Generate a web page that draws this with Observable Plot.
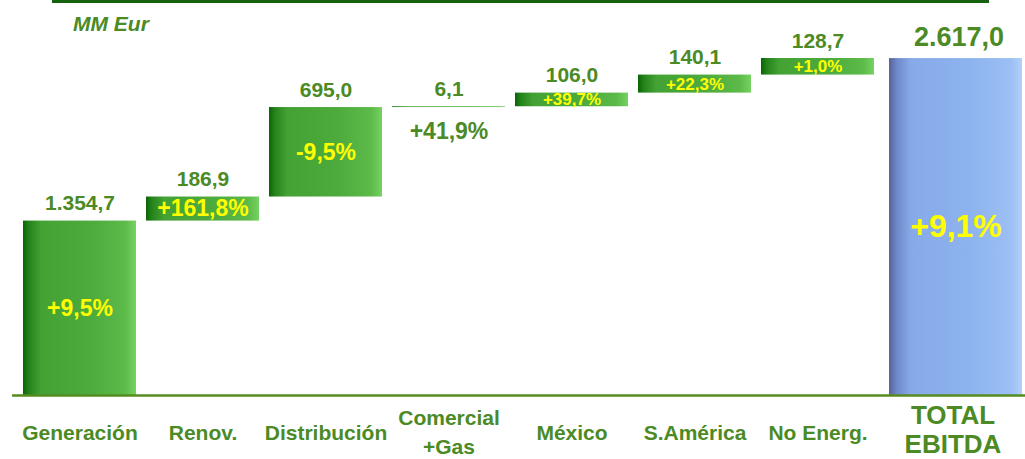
<!DOCTYPE html>
<html>
<head>
<meta charset="utf-8">
<script src="https://cdn.jsdelivr.net/npm/d3@7"></script>
<script src="https://cdn.jsdelivr.net/npm/@observablehq/plot@0.6"></script>
<style>
  html, body { margin: 0; padding: 0; background: #ffffff; }
  #chart { width: 1025px; height: 459px; }
</style>
</head>
<body>
<div id="chart"></div>
<script>
// ---- Data ----
const categories = ["Generación", "Renov.", "Distribución", "Comercial\n+Gas", "México", "S.América", "No Energ.", "TOTAL\nEBITDA"];
const values = [1354.7, 186.9, 695.0, 6.1, 106.0, 140.1, 128.7, 2617.0];   // MM Eur
const changes = [9.5, 161.8, -9.5, 41.9, 39.7, 22.3, 1.0, 9.1];          // % change
const isTotal = [false, false, false, false, false, false, false, true];
const unitLabel = "MM Eur";

// ---- Build waterfall table ----
const esLocale = d3.formatLocale({decimal: ",", thousands: ".", grouping: [3], currency: ["", " €"]});
const fmtValue = esLocale.format(",.1f");
const fmtChange = v => (v > 0 ? "+" : v < 0 ? "-" : "") + esLocale.format(",.1f")(Math.abs(v)) + "%";

let run = 0;
const rows = categories.map((c, i) => {
  let start, end;
  if (isTotal[i]) { start = 0; end = values[i]; }
  else { start = run; end = run + values[i]; run = end; }
  return {category: c, value: values[i], change: changes[i], start, end, mid: (start + end) / 2, total: isTotal[i]};
});
const steps = rows.filter(d => !d.total);
const totals = rows.filter(d => d.total);
const yMax = d3.max(rows, d => d.end);

const GREEN_TEXT = "#4b8a24";
const FONT = "'Liberation Sans', Arial, Helvetica, sans-serif";

// decorations: gradients, top rule, unit label
const deco = (index, scales, values, dims) => {
  const g = d3.create("svg:g");
  const defs = g.append("defs");
  const gg = defs.append("linearGradient").attr("id", "gGreen").attr("x1", 0).attr("x2", 1).attr("y1", 0).attr("y2", 0);
  [[0, "#0c6306"], [0.05, "#23831a"], [0.16, "#44a134"], [0.6, "#4dab3d"], [0.9, "#5cba49"], [1, "#76d262"]]
    .forEach(([o, c]) => gg.append("stop").attr("offset", o).attr("stop-color", c));
  const gb = defs.append("linearGradient").attr("id", "gBlue").attr("x1", 0).attr("x2", 1).attr("y1", 0).attr("y2", 0);
  [[0, "#56629a"], [0.06, "#6f88c8"], [0.16, "#87a9e8"], [0.6, "#8db3ee"], [0.92, "#9cc0f4"], [1, "#b2d0fa"]]
    .forEach(([o, c]) => gb.append("stop").attr("offset", o).attr("stop-color", c));
  g.append("rect").attr("x", 52).attr("y", 0).attr("width", dims.width - 52 - 36).attr("height", 3).attr("fill", "#17620e");
  g.append("text").attr("x", 73).attr("y", 31).attr("text-anchor", "start")
    .attr("font-family", FONT).attr("font-size", 21).attr("font-weight", "bold").attr("font-style", "italic")
    .attr("fill", GREEN_TEXT).text(unitLabel);
  return g.node();
};

// bars with room for a full-size label vs. thin bars
const bigSteps = steps.filter(d => d.value >= 180);
const smallSteps = steps.filter(d => d.value >= 20 && d.value < 180);
const thinSteps = steps.filter(d => d.value < 20);

const chart = Plot.plot({
  width: 1025,
  height: 459,
  marginTop: 58,
  marginBottom: 64,
  marginLeft: 12,
  marginRight: 0,
  style: {fontFamily: FONT, background: "#ffffff"},
  x: {domain: categories, range: [10, 1010], padding: 0.08, axis: null},
  y: {domain: [0, yMax], axis: null},
  marks: [
    deco,
    // step bars
    Plot.rectY(steps, {x: "category", y1: "start", y2: "end", fill: "url(#gGreen)"}),
    // total bar
    Plot.rectY(totals, {x: "category", y1: "start", y2: "end", fill: "url(#gBlue)", insetLeft: 5, insetRight: -25}),
    // baseline
    Plot.ruleY([0], {stroke: "#568c1f", strokeWidth: 2.5}),
    // value labels
    Plot.text(steps, {x: "category", y: "end", text: d => fmtValue(d.value), dy: -11, lineAnchor: "bottom",
      fill: GREEN_TEXT, fontSize: 21, fontWeight: "bold"}),
    Plot.text(totals, {x: "category", y: "end", text: d => fmtValue(d.value), dy: -13, dx: 18, lineAnchor: "bottom",
      fill: GREEN_TEXT, fontSize: 27, fontWeight: "bold"}),
    // % change labels inside bars, or below a very thin bar
    Plot.text(bigSteps, {x: "category", y: "mid", text: d => fmtChange(d.change), lineAnchor: "middle",
      fill: "#ffff00", fontSize: 23, fontWeight: "bold"}),
    Plot.text(smallSteps, {x: "category", y: "mid", text: d => fmtChange(d.change), lineAnchor: "middle",
      fill: "#ffff00", fontSize: 17, fontWeight: "bold"}),
    Plot.text(thinSteps, {x: "category", y: "start", text: d => fmtChange(d.change), dy: 15, lineAnchor: "top",
      fill: GREEN_TEXT, fontSize: 23, fontWeight: "bold"}),
    Plot.text(totals, {x: "category", y: "mid", text: d => fmtChange(d.change), dx: 15, lineAnchor: "middle",
      fill: "#ffff00", fontSize: 32, fontWeight: "bold"}),
    // category labels
    Plot.text(steps, {x: "category", text: "category", frameAnchor: "bottom", dy: 35, lineAnchor: "middle", lineHeight: 1.38,
      fill: GREEN_TEXT, fontSize: 21, fontWeight: "bold"}),
    Plot.text(totals, {x: "category", text: "category", frameAnchor: "bottom", dy: 34, dx: 12, lineAnchor: "middle", lineHeight: 1.12,
      fill: GREEN_TEXT, fontSize: 26, fontWeight: "bold"})
  ]
});

document.getElementById("chart").appendChild(chart);
</script>
</body>
</html>
